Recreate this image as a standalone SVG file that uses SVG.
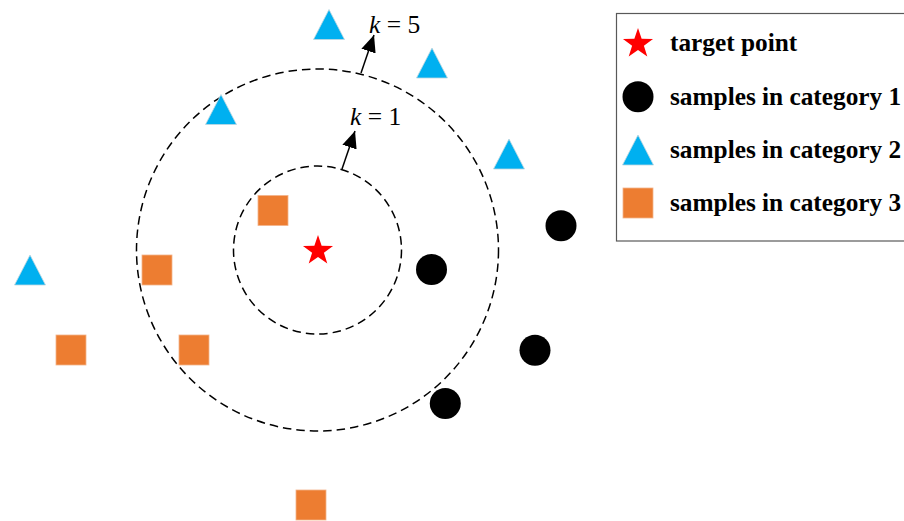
<svg xmlns="http://www.w3.org/2000/svg" xmlns:xlink="http://www.w3.org/1999/xlink" width="904" height="521" viewBox="0 0 904 521">
  <style>
    .ring { fill: none; stroke: #000; stroke-width: 1.5; stroke-dasharray: 8.5 5; }
    .ptr { stroke: #000; stroke-width: 1.5; fill: none; }
    .lbl { font-family: "Liberation Serif", "Times New Roman", serif; font-size: 25.5px; fill: #000; }
    .lbl .it { font-style: italic; }
    .leg { font-family: "Liberation Serif", "Times New Roman", serif; font-size: 25.3px; font-weight: bold; fill: #000; }
    .c1 { fill: #000; }
    .c2 { fill: #00B0F0; stroke: #BFD7E0; stroke-width: 0.8; }
    .c3 { fill: #ED7D31; stroke: #F3B38A; stroke-width: 0.8; }
    .tgt { fill: #FF0000; }
  </style>
  <defs>
    <path id="star" d="M0,-15.8 L3.64,-5.02 L15.03,-4.88 L5.9,1.92 L9.29,12.78 L0,6.2 L-9.29,12.78 L-5.9,1.92 L-15.03,-4.88 L-3.64,-5.02 Z"/>
    <!-- triangle anchored at its apex -->
    <path id="tri" d="M0,0 L15.5,30 L-15.5,30 Z"/>
    <!-- square anchored at its centre -->
    <rect id="sq" x="-15" y="-15" width="30" height="30"/>
    <circle id="dot" r="15.5"/>
    <marker id="head" markerUnits="userSpaceOnUse" markerWidth="17" markerHeight="15" refX="17" refY="7.5" orient="auto">
      <path d="M0,0 L17,7.5 L0,15 Z" fill="#000"/>
    </marker>
  </defs>

  <!-- neighbourhood rings -->
  <g id="rings">
    <circle class="ring" cx="317.5" cy="250" r="84"/>
    <circle class="ring" cx="317.5" cy="250" r="181"/>
  </g>

  <!-- radius pointers -->
  <g id="connectors">
    <line class="ptr" x1="342" y1="169" x2="355" y2="131" marker-end="url(#head)"/>
    <line class="ptr" x1="361" y1="73" x2="374" y2="35" marker-end="url(#head)"/>
  </g>

  <g id="label-k1"><text class="lbl" x="350" y="125"><tspan class="it">k</tspan> = 1</text></g>
  <g id="label-k5"><text class="lbl" x="369" y="33"><tspan class="it">k</tspan> = 5</text></g>

  <!-- target -->
  <g id="target"><use href="#star" class="tgt" x="318" y="250.8"/></g>

  <!-- category 1 -->
  <g id="c1-a"><use href="#dot" class="c1" x="431.5" y="269.5"/></g>
  <g id="c1-b"><use href="#dot" class="c1" x="561" y="225.7"/></g>
  <g id="c1-c"><use href="#dot" class="c1" x="535" y="350.3"/></g>
  <g id="c1-d"><use href="#dot" class="c1" x="445.3" y="403.5"/></g>

  <!-- category 2 -->
  <g id="c2-a"><use href="#tri" class="c2" x="329" y="9.5"/></g>
  <g id="c2-b"><use href="#tri" class="c2" x="432" y="48"/></g>
  <g id="c2-c"><use href="#tri" class="c2" x="221" y="94.5"/></g>
  <g id="c2-d"><use href="#tri" class="c2" x="509" y="139"/></g>
  <g id="c2-e"><use href="#tri" class="c2" x="30" y="255"/></g>

  <!-- category 3 -->
  <g id="c3-a"><use href="#sq" class="c3" x="273" y="210.5"/></g>
  <g id="c3-b"><use href="#sq" class="c3" x="157" y="270"/></g>
  <g id="c3-c"><use href="#sq" class="c3" x="71" y="350"/></g>
  <g id="c3-d"><use href="#sq" class="c3" x="194" y="350"/></g>
  <g id="c3-e"><use href="#sq" class="c3" x="311" y="505"/></g>

  <!-- legend -->
  <g id="legend">
    <rect x="616.5" y="13.5" width="300" height="227.5" fill="#fff" stroke="#595959" stroke-width="1.2"/>
    <use href="#star" class="tgt" x="638" y="43.8"/>
    <text class="leg" x="670" y="51">target point</text>
    <use href="#dot" class="c1" x="638" y="96.7"/>
    <text class="leg" x="670" y="105">samples in category 1</text>
    <use href="#tri" class="c2" x="638" y="135"/>
    <text class="leg" x="670" y="158">samples in category 2</text>
    <use href="#sq" class="c3" x="638" y="203"/>
    <text class="leg" x="670" y="211">samples in category 3</text>
  </g>
</svg>
